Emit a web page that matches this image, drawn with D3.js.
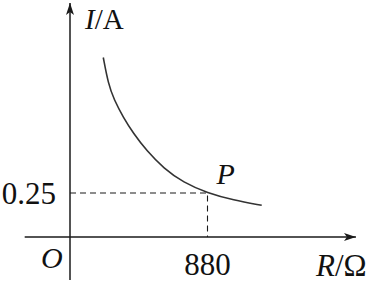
<!DOCTYPE html>
<html>
<head>
<meta charset="utf-8">
<script src="https://cdn.jsdelivr.net/npm/d3@7"></script>
<style>
  body { margin: 0; background: #fff; }
  svg { display: block; }
  text { font-family: "Liberation Serif", "DejaVu Serif", serif; fill: #111; }
</style>
</head>
<body>
<svg width="375" height="283"></svg>
<script>
var svg = d3.select('svg');

// points (R in ohm, I in A)
var resistance = [213, 245, 282, 341, 405, 491, 600, 725, 880, 1045, 1227];
var current = [1.02, 0.87, 0.78, 0.68, 0.59, 0.49, 0.39, 0.31, 0.25, 0.21, 0.18];

// marked point P
var pointR = 880;
var pointI = 0.25;
var xTickLabels = ['880'];
var yTickLabels = ['0.25'];

var x = d3.scaleLinear().domain([0, 880]).range([70, 207.5]);
var y = d3.scaleLinear().domain([0, 0.25]).range([237, 193]);

var ink = '#1a1a1a';

// arrow head
svg.append('defs').append('marker')
    .attr('id', 'arrow')
    .attr('viewBox', '0 0 12 8')
    .attr('refX', 12)
    .attr('refY', 4)
    .attr('markerWidth', 12)
    .attr('markerHeight', 8)
    .attr('markerUnits', 'userSpaceOnUse')
    .attr('orient', 'auto')
    .append('path')
    .attr('d', 'M0,0 L12,4 L0,8 L3,4 Z')
    .attr('fill', ink);

// axes
svg.append('line')
    .attr('x1', x(-290)).attr('y1', y(0))
    .attr('x2', x(1830)).attr('y2', y(0))
    .attr('stroke', ink).attr('stroke-width', 1.5)
    .attr('marker-end', 'url(#arrow)');

svg.append('line')
    .attr('x1', x(0)).attr('y1', y(-0.245))
    .attr('x2', x(0)).attr('y2', y(1.33))
    .attr('stroke', ink).attr('stroke-width', 1.5)
    .attr('marker-end', 'url(#arrow)');

// dashed guides to P
svg.append('path')
    .attr('d', 'M' + x(0) + ',' + y(pointI) + 'H' + x(pointR) + 'V' + y(0))
    .attr('fill', 'none')
    .attr('stroke', ink)
    .attr('stroke-width', 1.1)
    .attr('stroke-dasharray', '6,4');

// curve
var data = resistance.map(function(r, i) { return {r: r, i: current[i]}; });
var line = d3.line()
    .x(function(d) { return x(d.r); })
    .y(function(d) { return y(d.i); })
    .curve(d3.curveBasis);

svg.append('path')
    .datum(data)
    .attr('d', line)
    .attr('fill', 'none')
    .attr('stroke', '#333')
    .attr('stroke-width', 1.6);

// tick labels
svg.append('text')
    .attr('x', x(pointR))
    .attr('y', y(0) + 38)
    .attr('text-anchor', 'middle')
    .attr('font-size', 31)
    .text(xTickLabels[0]);

svg.append('text')
    .attr('x', x(0) - 14)
    .attr('y', y(pointI) + 11)
    .attr('text-anchor', 'end')
    .attr('font-size', 31)
    .text(yTickLabels[0]);

// labels
svg.append('text')
    .attr('x', x(0) - 29)
    .attr('y', y(0) + 31)
    .attr('font-size', 30)
    .attr('font-style', 'italic')
    .text('O');

svg.append('text')
    .attr('x', x(pointR) + 9)
    .attr('y', y(pointI) - 9)
    .attr('font-size', 30)
    .attr('font-style', 'italic')
    .text('P');

var yl = svg.append('text')
    .attr('x', x(0) + 15)
    .attr('y', 29)
    .attr('font-size', 29);
yl.append('tspan').attr('font-style', 'italic').text('I');
yl.append('tspan').text('/A');

var xl = svg.append('text')
    .attr('x', 316)
    .attr('y', 276)
    .attr('font-size', 31);
xl.append('tspan').attr('font-style', 'italic').text('R');
xl.append('tspan').text('/Ω');
</script>
</body>
</html>
